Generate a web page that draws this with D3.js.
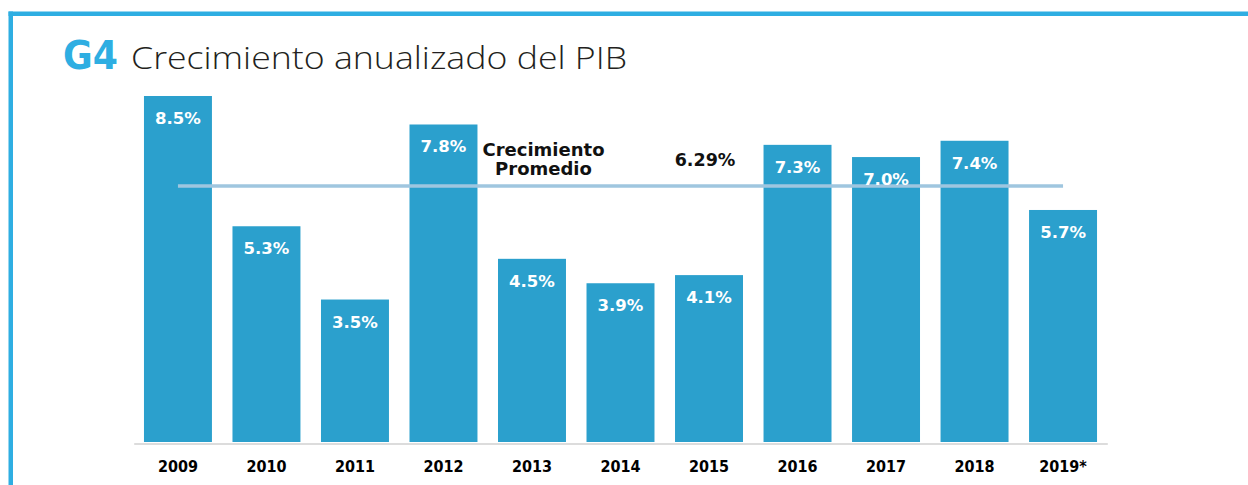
<!DOCTYPE html>
<html>
<head>
<meta charset="utf-8">
<script src="https://cdn.jsdelivr.net/npm/d3@7/dist/d3.min.js"></script>
<style>
  html, body { margin: 0; padding: 0; background: #fff; }
  svg { display: block; }
</style>
</head>
<body>
<svg id="chart" width="1248" height="485"></svg>
<script>
// ---- data ----
const years = ["2009", "2010", "2011", "2012", "2013", "2014", "2015", "2016", "2017", "2018", "2019*"];
const growth = [8.5, 5.3, 3.5, 7.8, 4.5, 3.9, 4.1, 7.3, 7.0, 7.4, 5.7];
const valueLabels = ["8.5%", "5.3%", "3.5%", "7.8%", "4.5%", "3.9%", "4.1%", "7.3%", "7.0%", "7.4%", "5.7%"];
const average = 6.29;
const averageLabel = "6.29%";
const averageTitle = ["Crecimiento", "Promedio"];
const chartTag = "G4";
const chartTitle = "Crecimiento anualizado del PIB";

const data = years.map((y, i) => ({ year: y, value: growth[i], label: valueLabels[i] }));

const svg = d3.select("#chart");
const blue = "#2eaee2";
const barColor = "#2ba0cd";

// frame
svg.append("rect").attr("x", 8.5).attr("y", 11.5).attr("width", 1248).attr("height", 4.5).attr("fill", blue);
svg.append("rect").attr("x", 8.5).attr("y", 11.5).attr("width", 4.5).attr("height", 480).attr("fill", blue);

// title
svg.append("text").attr("x", 63).attr("y", 69)
  .attr("font-family", "DejaVu Sans").attr("font-weight", "bold").attr("font-size", 39)
  .attr("textLength", 55).attr("lengthAdjust", "spacingAndGlyphs")
  .attr("fill", blue).text(chartTag);
svg.append("text").attr("x", 131).attr("y", 69)
  .attr("font-family", "Open Sans").attr("font-weight", 300).attr("font-size", 31)
  .attr("textLength", 496).attr("lengthAdjust", "spacingAndGlyphs")
  .attr("fill", "#231f20").text(chartTitle);

// scales
const x = d3.scaleBand().domain(years).range([133.7, 1107.3]).paddingInner(0.232).paddingOuter(0.116);
const y = d3.scaleLinear().domain([0, 8.5]).range([442, 96]);

// bars
svg.append("g").selectAll("rect").data(data).join("rect")
  .attr("x", d => x(d.year)).attr("width", x.bandwidth())
  .attr("y", d => y(d.value)).attr("height", d => y(0) - y(d.value))
  .attr("fill", barColor);

// x axis
const xAxis = svg.append("g").attr("transform", `translate(0,${y(0) + 1.5})`)
  .call(d3.axisBottom(x).tickSize(0).tickPadding(0));
xAxis.select(".domain").attr("stroke", "#dcdcdc").attr("stroke-width", 2);
xAxis.selectAll(".tick text")
  .attr("font-family", "DejaVu Sans Condensed, DejaVu Sans").attr("font-weight", "bold")
  .attr("font-size", 16).attr("fill", "#000")
  .attr("dy", null).attr("y", 28);

// average line
const bw = x.bandwidth();
svg.append("line")
  .attr("x1", x(years[0]) + bw / 2).attr("x2", x(years[years.length - 1]) + bw / 2)
  .attr("y1", y(average)).attr("y2", y(average))
  .attr("stroke", "#9fc6df").attr("stroke-width", 3.5);

// value labels
svg.append("g").selectAll("text").data(data).join("text")
  .attr("x", d => x(d.year) + bw / 2).attr("y", d => y(d.value) + 28)
  .attr("text-anchor", "middle")
  .attr("font-family", "DejaVu Sans").attr("font-weight", "bold").attr("font-size", 16.5)
  .attr("fill", "#fff").text(d => d.label);

// average annotation
const annX = x("2013") + bw / 2 + 11.5;
svg.append("text").attr("x", annX).attr("y", y(average) - 30)
  .attr("text-anchor", "middle").attr("font-family", "DejaVu Sans").attr("font-weight", "bold")
  .attr("font-size", 18).attr("fill", "#111").text(averageTitle[0]);
svg.append("text").attr("x", annX).attr("y", y(average) - 11)
  .attr("text-anchor", "middle").attr("font-family", "DejaVu Sans").attr("font-weight", "bold")
  .attr("font-size", 18).attr("fill", "#111").text(averageTitle[1]);
svg.append("text").attr("x", x("2015") + bw / 2 - 4).attr("y", y(average) - 20)
  .attr("text-anchor", "middle").attr("font-family", "DejaVu Sans").attr("font-weight", "bold")
  .attr("font-size", 17.5).attr("fill", "#111").text(averageLabel);
</script>
</body>
</html>
